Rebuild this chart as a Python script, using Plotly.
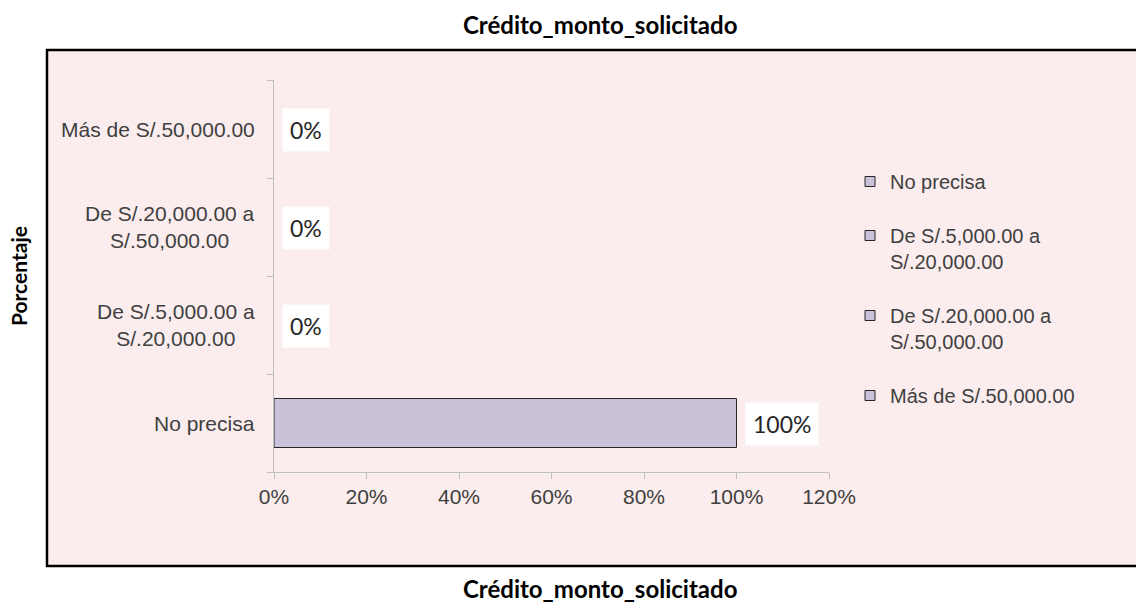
import plotly.graph_objects as go

categories = ["No precisa", "De S/.5,000.00 a S/.20,000.00",
              "De S/.20,000.00 a S/.50,000.00", "Más de S/.50,000.00"]
tick_labels = ["No precisa", "De S/.5,000.00 a<br>S/.20,000.00",
               "De S/.20,000.00 a<br>S/.50,000.00", "Más de S/.50,000.00"]
values = [1.0, 0.0, 0.0, 0.0]
title_text = "Crédito_monto_solicitado"
y_title = "Porcentaje"

BAR = "#CBC2DA"
EDGE = "#262626"
W, H = 1136, 605
L, R_PX, T, B_PX = 274, 829, 80, 472
pw, ph = R_PX - L, B_PX - T

def px(x):
    return (x - L) / pw

def py(y):
    return (B_PX - y) / ph

fig = go.Figure()
for cat, lab, v in zip(categories, tick_labels, values):
    fig.add_trace(go.Bar(
        x=[v], y=[cat], orientation="h", name=lab, showlegend=False,
        marker=dict(color=BAR, line=dict(color=EDGE, width=1 if v > 0 else 0)),
        hoverinfo="x+y",
    ))
# legend entries (one per category)
for cat, lab in zip(categories, tick_labels):
    fig.add_trace(go.Scatter(
        x=[None], y=[None], mode="markers", name=lab, legendgroup=cat,
        marker=dict(symbol="square", size=10, color=BAR, line=dict(color=EDGE, width=1)),
        hoverinfo="skip",
    ))

annotations = []
for cat, lab in zip(categories, tick_labels):
    annotations.append(dict(
        x=0, xref="paper", y=cat, yref="y", text=lab, showarrow=False,
        xanchor="right", yanchor="middle", align="center", xshift=-17,
        font=dict(family="Liberation Sans, Arial", size=21, color="#404040"),
    ))
for cat, v in zip(categories, values):
    annotations.append(dict(
        x=v, xref="x", y=cat, yref="y", text=f"{v:.0%}", showarrow=False,
        xanchor="left", yanchor="middle", xshift=8, yshift=-1,
        bgcolor="white", borderpad=7,
        font=dict(family="Lato", size=23, color="#262626"),
    ))
for yy in (25, 588):
    annotations.append(dict(
        x=px(600), xref="paper", y=py(yy), yref="paper", text=f"<b>{title_text}</b>",
        showarrow=False, xanchor="center", yanchor="middle",
        font=dict(family="Lato", size=24, color="black"),
    ))
annotations.append(dict(
    x=px(18), xref="paper", y=0.5, yref="paper", text=f"<b>{y_title}</b>",
    showarrow=False, textangle=-90, xanchor="center", yanchor="middle",
    font=dict(family="Lato", size=21, color="black"),
))

fig.update_layout(
    width=W, height=H,
    margin=dict(l=L, r=W - R_PX, t=T, b=H - B_PX, pad=0),
    paper_bgcolor="white", plot_bgcolor="rgba(0,0,0,0)",
    barmode="overlay", bargap=0.5,
    showlegend=True,
    legend=dict(x=px(850), y=py(162), xanchor="left", yanchor="top",
                bgcolor="rgba(0,0,0,0)", tracegroupgap=25, valign="top",
                itemwidth=30, traceorder="grouped",
                font=dict(family="Liberation Sans, Arial", size=20, color="#404040")),
    xaxis=dict(range=[0, 1.2], dtick=0.2, tickformat=".0%", showgrid=False,
               zeroline=False, showline=True, linecolor="#BFBFBF", linewidth=1,
               ticks="outside", ticklen=6, tickcolor="#BFBFBF",
               tickfont=dict(family="Liberation Sans, Arial", size=21, color="#404040"),
               fixedrange=True),
    yaxis=dict(categoryorder="array", categoryarray=categories,
               showticklabels=False, showgrid=False, zeroline=False,
               showline=True, linecolor="#BFBFBF", linewidth=1,
               ticks="outside", ticklen=6, tickcolor="#BFBFBF", tickson="boundaries",
               fixedrange=True),
    shapes=[dict(type="rect", xref="paper", yref="paper", layer="below",
                 x0=px(47), x1=px(1200), y0=py(566), y1=py(50),
                 fillcolor="#FBEDED", line=dict(color="black", width=2.5))],
    annotations=annotations,
)

fig.write_html("out.html", config={"displayModeBar": False},
               post_script="document.body.style.margin='0';")
